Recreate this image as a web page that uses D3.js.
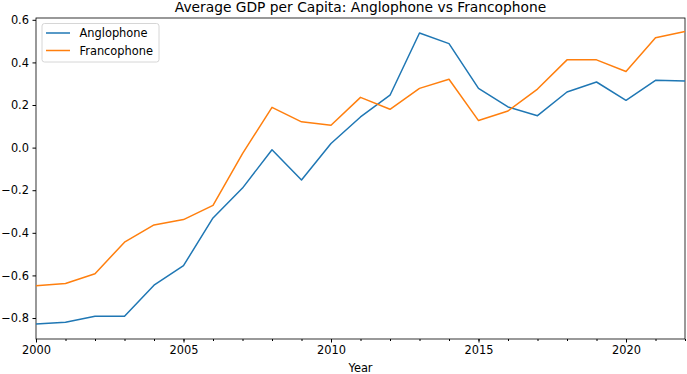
<!DOCTYPE html>
<html>
<head>
<meta charset="utf-8">
<script src="https://cdn.jsdelivr.net/npm/d3@7"></script>
<style>
  body { margin: 0; background: #fff; }
  text { font-family: "DejaVu Sans", sans-serif; }
</style>
</head>
<body>
<div id="chart"></div>
<script>
// years on the x axis
const years = d3.range(2000, 2023);
// average GDP per capita (standardised)
const anglophone = [-0.828, -0.82, -0.792, -0.792, -0.646, -0.554, -0.33, -0.19, -0.01, -0.152,
  0.019, 0.144, 0.246, 0.538, 0.488, 0.278, 0.191, 0.15, 0.261, 0.308, 0.222, 0.316, 0.313];
const francophone = [-0.648, -0.638, -0.592, -0.444, -0.363, -0.338, -0.271, -0.028, 0.189, 0.121,
  0.105, 0.236, 0.18, 0.278, 0.321, 0.127, 0.172, 0.275, 0.412, 0.412, 0.357, 0.516, 0.545];
const seriesNames = ["Anglophone", "Francophone"];
const colors = ["#1f77b4", "#ff7f0e"];
const xTicks = [2000, 2005, 2010, 2015, 2020];
const yTicks = [-0.8, -0.6, -0.4, -0.2, 0.0, 0.2, 0.4, 0.6];

const W = 687, H = 374;
const margin = {top: 18, right: 2, bottom: 35, left: 36};
const width = W - margin.left - margin.right,
    height = H - margin.top - margin.bottom;
const fs = 11.4;

const svg = d3.select("#chart")
  .append("svg")
    .attr("width", W)
    .attr("height", H)
  .append("g")
    .attr("transform", "translate(" + margin.left + "," + margin.top + ")");

const x = d3.scaleLinear().domain([2000, 2022]).range([0, width]);
const y = d3.scaleLinear().domain([-0.8985, 0.6085]).range([height, 0]);

// x axis with minor ticks every year
svg.append("g")
  .attr("transform", "translate(0," + height + ")")
  .call(d3.axisBottom(x).tickValues(years).tickSize(2).tickFormat(""))
  .call(g => g.select(".domain").remove());
const xa = svg.append("g")
  .attr("transform", "translate(0," + height + ")")
  .call(d3.axisBottom(x).tickValues(xTicks).tickSize(3.5).tickPadding(3.5).tickFormat(d3.format("d")));
xa.select(".domain").remove();
xa.selectAll("text").attr("font-size", fs).attr("fill", "#000");

const ya = svg.append("g")
  .call(d3.axisLeft(y).tickValues(yTicks).tickSize(3.5).tickPadding(3.5)
    .tickFormat(d => d3.format(".1f")(d).replace("-", "\u2212")));
ya.select(".domain").remove();
ya.selectAll("text").attr("font-size", fs).attr("fill", "#000");

// frame
svg.append("rect")
  .attr("width", width).attr("height", height)
  .attr("fill", "none").attr("stroke", "#000").attr("stroke-width", 0.8);

const line = d3.line()
  .x((d, i) => x(years[i]))
  .y(d => y(d));

[anglophone, francophone].forEach((s, i) => {
  svg.append("path")
    .datum(s)
    .attr("fill", "none")
    .attr("stroke", colors[i])
    .attr("stroke-width", 1.5)
    .attr("stroke-linejoin", "round")
    .attr("d", line);
});

// title and axis label
svg.append("text")
  .attr("x", width / 2).attr("y", -6)
  .attr("text-anchor", "middle")
  .attr("font-size", 13.8)
  .text("Average GDP per Capita: Anglophone vs Francophone");
svg.append("text")
  .attr("x", width / 2).attr("y", height + 32.5)
  .attr("text-anchor", "middle")
  .attr("font-size", fs)
  .text("Year");

// legend
const lg = svg.append("g").attr("transform", "translate(6,5.5)");
lg.append("rect")
  .attr("width", 117).attr("height", 38.5).attr("rx", 2.5)
  .attr("fill", "#fff").attr("fill-opacity", 0.8)
  .attr("stroke", "#ccc").attr("stroke-width", 0.8);
seriesNames.forEach((n, i) => {
  const gy = 9.5 + i * 17.5;
  lg.append("line")
    .attr("x1", 4).attr("x2", 28).attr("y1", gy).attr("y2", gy)
    .attr("stroke", colors[i]).attr("stroke-width", 1.5);
  lg.append("text")
    .attr("x", 37.5).attr("y", gy + 4)
    .attr("font-size", fs)
    .text(n);
});
</script>
</body>
</html>
